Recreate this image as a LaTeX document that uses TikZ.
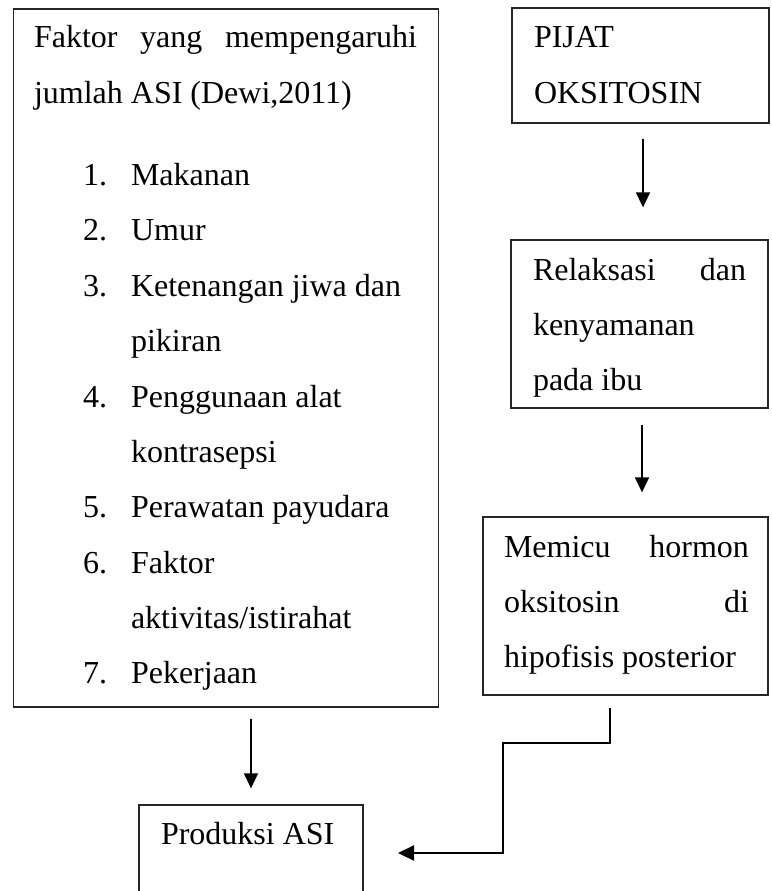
\documentclass[tikz,border=0pt]{standalone}
\usepackage{fontspec}
\setmainfont{Liberation Serif}
\usetikzlibrary{arrows.meta}
\begin{document}
\begin{tikzpicture}[x=1pt,y=-1pt,
  box/.style={draw=black!85, line width=1.3pt, rectangle, inner sep=0pt, fill=none},
  txt/.style={anchor=base west, inner sep=0pt, outer sep=0pt, font=\fontsize{32}{38}\selectfont},
  arr/.style={draw=black, line width=1.6pt, -{Triangle[length=15pt,width=14pt]}},
  elbow/.style={draw=black, line width=2.2pt, -{Triangle[length=16pt,width=15pt]}}]
\useasboundingbox (0,0) rectangle (771,891);
% boxes
\node[box, minimum width=425pt, minimum height=698pt] (faktor) at (226,358) {};
\node[box, minimum width=257pt, minimum height=115pt] (pijat) at (640.5,65.5) {};
\node[box, minimum width=257pt, minimum height=168pt] (relaks) at (639.5,324) {};
\node[box, minimum width=285pt, minimum height=178pt] (memicu) at (625.5,606) {};
\node[box, minimum width=224pt, minimum height=102pt] (produksi) at (251,856) {};
% left box text
\node[txt] (f1) at (34,48) {\hbox to 383pt{Faktor\hfill yang\hfill mempengaruhi}};
\node[txt] (f2) at (34,103) {jumlah ASI (Dewi,2011)};
\node[txt] (n1) at (83,185) {1.};
\node[txt] (t1) at (131,185) {Makanan};
\node[txt] (n2) at (83,240.5) {2.};
\node[txt] (t2) at (131,240.5) {Umur};
\node[txt] (n3) at (83,296) {3.};
\node[txt] (t3) at (131,296) {Ketenangan jiwa dan};
\node[txt] (t3b) at (131,351.5) {pikiran};
\node[txt] (n4) at (83,407) {4.};
\node[txt] (t4) at (131,407) {Penggunaan alat};
\node[txt] (t4b) at (131,462) {kontrasepsi};
\node[txt] (n5) at (83,517.5) {5.};
\node[txt] (t5) at (131,517.5) {Perawatan payudara};
\node[txt] (n6) at (83,573) {6.};
\node[txt] (t6) at (131,573) {Faktor};
\node[txt] (t6b) at (131,628) {aktivitas/istirahat};
\node[txt] (n7) at (83,683) {7.};
\node[txt] (t7) at (131,683) {Pekerjaan};
% right boxes text
\node[txt] (p1) at (534,48) {PIJAT};
\node[txt] (p2) at (534,103) {OKSITOSIN};
\node[txt] (r1) at (533,280) {\hbox to 213pt{Relaksasi\hfill dan}};
\node[txt] (r2) at (533,335) {kenyamanan};
\node[txt] (r3) at (533,390) {pada ibu};
\node[txt] (m1) at (504,557) {\hbox to 245pt{Memicu\hfill hormon}};
\node[txt] (m2) at (504,612) {\hbox to 245pt{oksitosin\hfill di}};
\node[txt] (m3) at (504,667) {hipofisis posterior};
\node[txt] (pr) at (161,844) {Produksi ASI};
% connectors
\draw[arr, shorten <=15pt, shorten >=32pt] ([xshift=2.5pt]pijat.south) -- ([xshift=2.5pt]pijat.south |- relaks.north);
\draw[arr, shorten <=16pt, shorten >=24pt] ([xshift=2.5pt]relaks.south) -- ([xshift=2.5pt]relaks.south |- memicu.north);
\draw[arr, shorten <=11pt, shorten >=16pt] (faktor.south -| produksi.north) -- (produksi.north);
\coordinate (b1) at (503,743);
\coordinate (b2) at (503,853);
\coordinate (tip) at (398,853);
\draw[elbow] ([xshift=-15.5pt,yshift=-12pt]memicu.south) |- (b1) -- (b2) -- (tip);
\end{tikzpicture}
\end{document}
